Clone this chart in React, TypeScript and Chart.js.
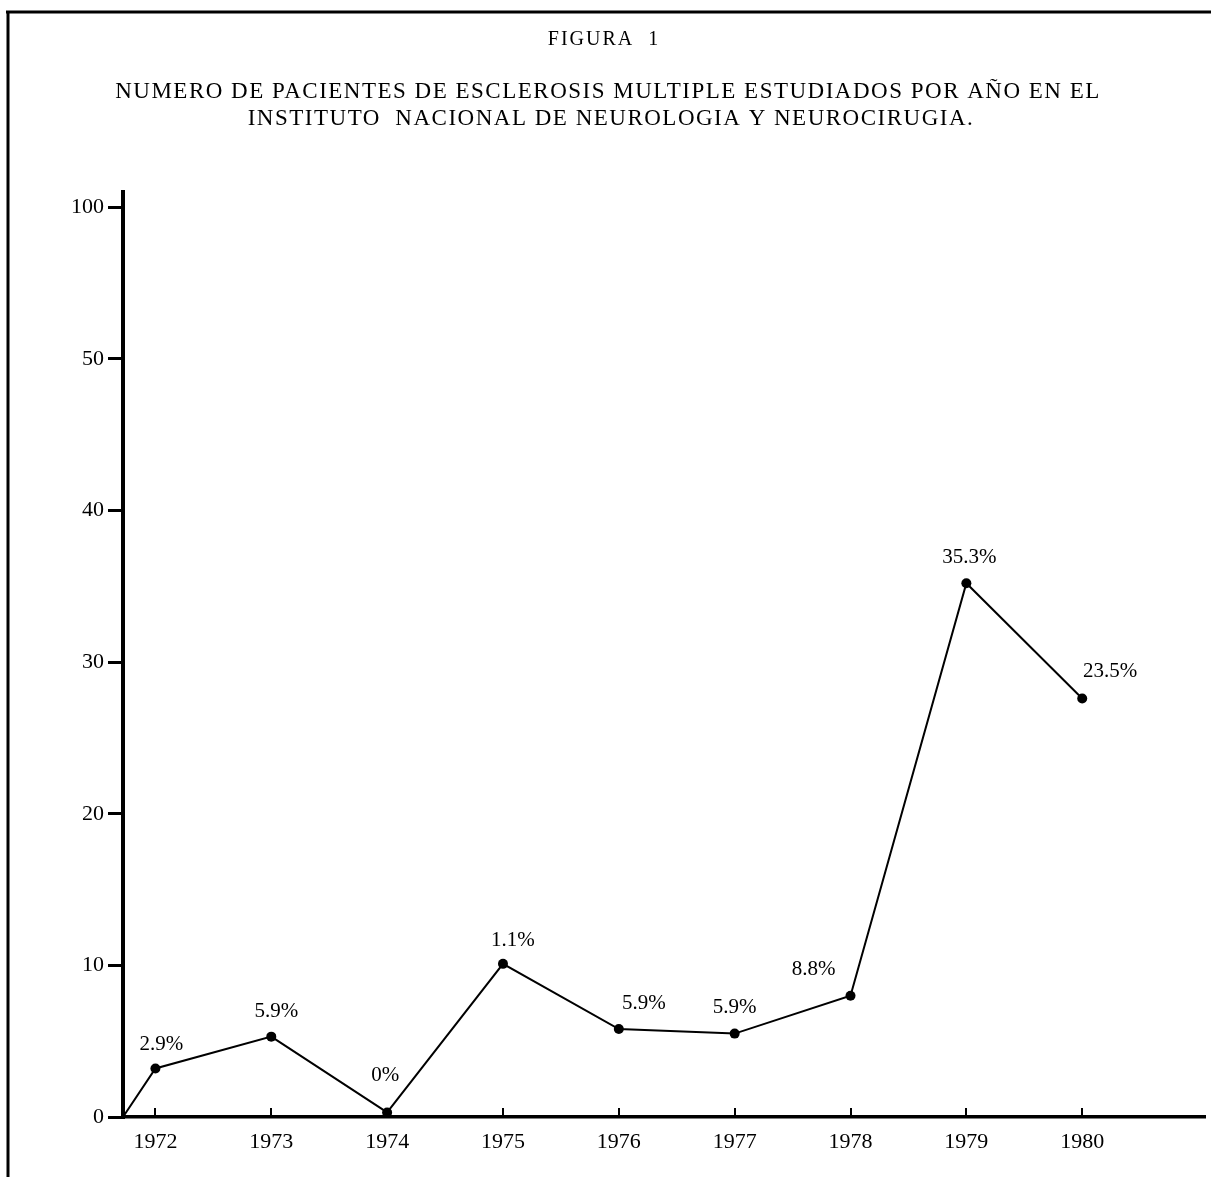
import React, { useEffect, useRef } from 'react';
import { Chart, registerables } from 'chart.js';

Chart.register(...registerables);

const YEARS = [1972, 1973, 1974, 1975, 1976, 1977, 1978, 1979, 1980];
const PATIENTS = [3.2, 5.3, 0.3, 10.1, 5.8, 5.5, 8.0, 35.2, 27.6];
const PERCENT_LABELS = ['2.9%', '5.9%', '0%', '1.1%', '5.9%', '5.9%', '8.8%', '35.3%', '23.5%'];
const Y_TICK_VALUES = [0, 10, 20, 30, 40, 50, 60];
const Y_TICK_LABELS = ['0', '10', '20', '30', '40', '50', '100'];
const TITLE = 'FIGURA  1';
const SUBTITLE = [
  'NUMERO DE PACIENTES DE ESCLEROSIS MULTIPLE ESTUDIADOS POR AÑO EN EL',
  'INSTITUTO  NACIONAL DE NEUROLOGIA Y NEUROCIRUGIA.',
];

// scale extents (axis runs slightly past the last year / top tick)
const X_MIN = 1971.72;
const X_MAX = 1981.06;
const Y_MAX = 61;

// label placement relative to each point (style only)
const LABEL_SHIFT: [number, number][] = [
  [6, -24], [5, -25], [-2, -37], [10, -23], [25, -26], [0, -26], [-37, -26], [3, -26], [28, -27],
];

const FONT = '"Liberation Serif", "Times New Roman", serif';

const framePlugin = {
  id: 'frame',
  afterDraw(chart: any) {
    const ctx = chart.ctx;
    ctx.save();
    ctx.strokeStyle = '#000';
    ctx.lineWidth = 3;
    ctx.beginPath();
    ctx.moveTo(6, 12);
    ctx.lineTo(chart.width, 12);
    ctx.moveTo(8, 12);
    ctx.lineTo(8, chart.height);
    ctx.stroke();
    ctx.restore();
  },
};

const titlePlugin = {
  id: 'figureTitle',
  afterDraw(chart: any) {
    const ctx = chart.ctx;
    ctx.save();
    ctx.fillStyle = '#000';
    ctx.textAlign = 'center';
    ctx.textBaseline = 'middle';
    (ctx as any).letterSpacing = '2px';
    ctx.font = `20px ${FONT}`;
    ctx.fillText(TITLE, 604, 40);
    (ctx as any).letterSpacing = '1.5px';
    ctx.font = `23px ${FONT}`;
    ctx.fillText(SUBTITLE[0], 608, 92);
    ctx.fillText(SUBTITLE[1], 611, 119);
    (ctx as any).letterSpacing = '0px';
    ctx.restore();
  },
};

const xTickPlugin = {
  id: 'xInwardTicks',
  afterDatasetsDraw(chart: any) {
    const ctx = chart.ctx;
    const xs = chart.scales.x;
    const bottom = chart.chartArea.bottom;
    ctx.save();
    ctx.strokeStyle = '#000';
    ctx.lineWidth = 2;
    ctx.beginPath();
    YEARS.forEach((yr) => {
      const px = Math.round(xs.getPixelForValue(yr));
      ctx.moveTo(px, bottom);
      ctx.lineTo(px, bottom - 9);
    });
    ctx.stroke();
    ctx.restore();
  },
};

const pointLabelPlugin = {
  id: 'pointLabels',
  afterDatasetsDraw(chart: any) {
    const ctx = chart.ctx;
    const meta = chart.getDatasetMeta(0);
    ctx.save();
    ctx.fillStyle = '#000';
    ctx.font = `21px ${FONT}`;
    ctx.textAlign = 'center';
    ctx.textBaseline = 'middle';
    PERCENT_LABELS.forEach((lab, i) => {
      const el = meta.data[i + 1];
      if (!el) return;
      const [dx, dy] = LABEL_SHIFT[i];
      ctx.fillText(lab, el.x + dx, el.y + dy);
    });
    ctx.restore();
  },
};

export default function App() {
  const ref = useRef<HTMLCanvasElement | null>(null);

  useEffect(() => {
    document.body.style.margin = '0';
    document.body.style.overflow = 'hidden';
    const canvas = ref.current;
    if (!canvas) return;

    const points = [
      { x: X_MIN, y: 0 },
      ...YEARS.map((yr, i) => ({ x: yr, y: PATIENTS[i] })),
    ];

    const chart = new Chart(canvas, {
      type: 'line',
      data: {
        datasets: [
          {
            data: points,
            borderColor: '#000',
            backgroundColor: '#000',
            borderWidth: 2,
            tension: 0,
            pointRadius: (c: any) => (c.dataIndex === 0 ? 0 : 5),
            pointBackgroundColor: '#000',
            pointBorderWidth: 0,
            clip: false as any,
          },
        ],
      },
      options: {
        responsive: false,
        animation: false,
        layout: { padding: { left: 0, right: 6, top: 192, bottom: 0 } },
        plugins: {
          legend: { display: false },
          tooltip: { enabled: false },
          title: { display: false },
        },
        scales: {
          x: {
            type: 'linear',
            min: X_MIN,
            max: X_MAX,
            afterBuildTicks: (s: any) => {
              s.ticks = YEARS.map((v) => ({ value: v }));
            },
            afterFit: (s: any) => {
              s.height = 60;
            },
            grid: { display: false },
            border: { display: true, color: '#000', width: 3.5 },
            ticks: {
              color: '#000',
              font: { family: FONT, size: 22 },
              padding: 4,
              maxRotation: 0,
              autoSkip: false,
              callback: (v: any) => String(v),
            },
          },
          y: {
            type: 'linear',
            min: 0,
            max: Y_MAX,
            afterBuildTicks: (s: any) => {
              s.ticks = Y_TICK_VALUES.map((v) => ({ value: v }));
            },
            afterFit: (s: any) => {
              s.width = 123;
            },
            grid: {
              display: true,
              drawOnChartArea: false,
              drawTicks: true,
              tickLength: 15,
              lineWidth: 3,
              color: '#000',
            },
            border: { display: true, color: '#000', width: 4 },
            ticks: {
              color: '#000',
              font: { family: FONT, size: 22 },
              padding: 4,
              callback: (v: any) => {
                const k = Y_TICK_VALUES.indexOf(Number(v));
                return k >= 0 ? Y_TICK_LABELS[k] : '';
              },
            },
          },
        },
      },
      plugins: [framePlugin, titlePlugin, xTickPlugin, pointLabelPlugin],
    } as any);

    return () => chart.destroy();
  }, []);

  return (
    <canvas ref={ref} width={1211} height={1177} style={{ display: 'block', width: 1211, height: 1177 }} />
  );
}
